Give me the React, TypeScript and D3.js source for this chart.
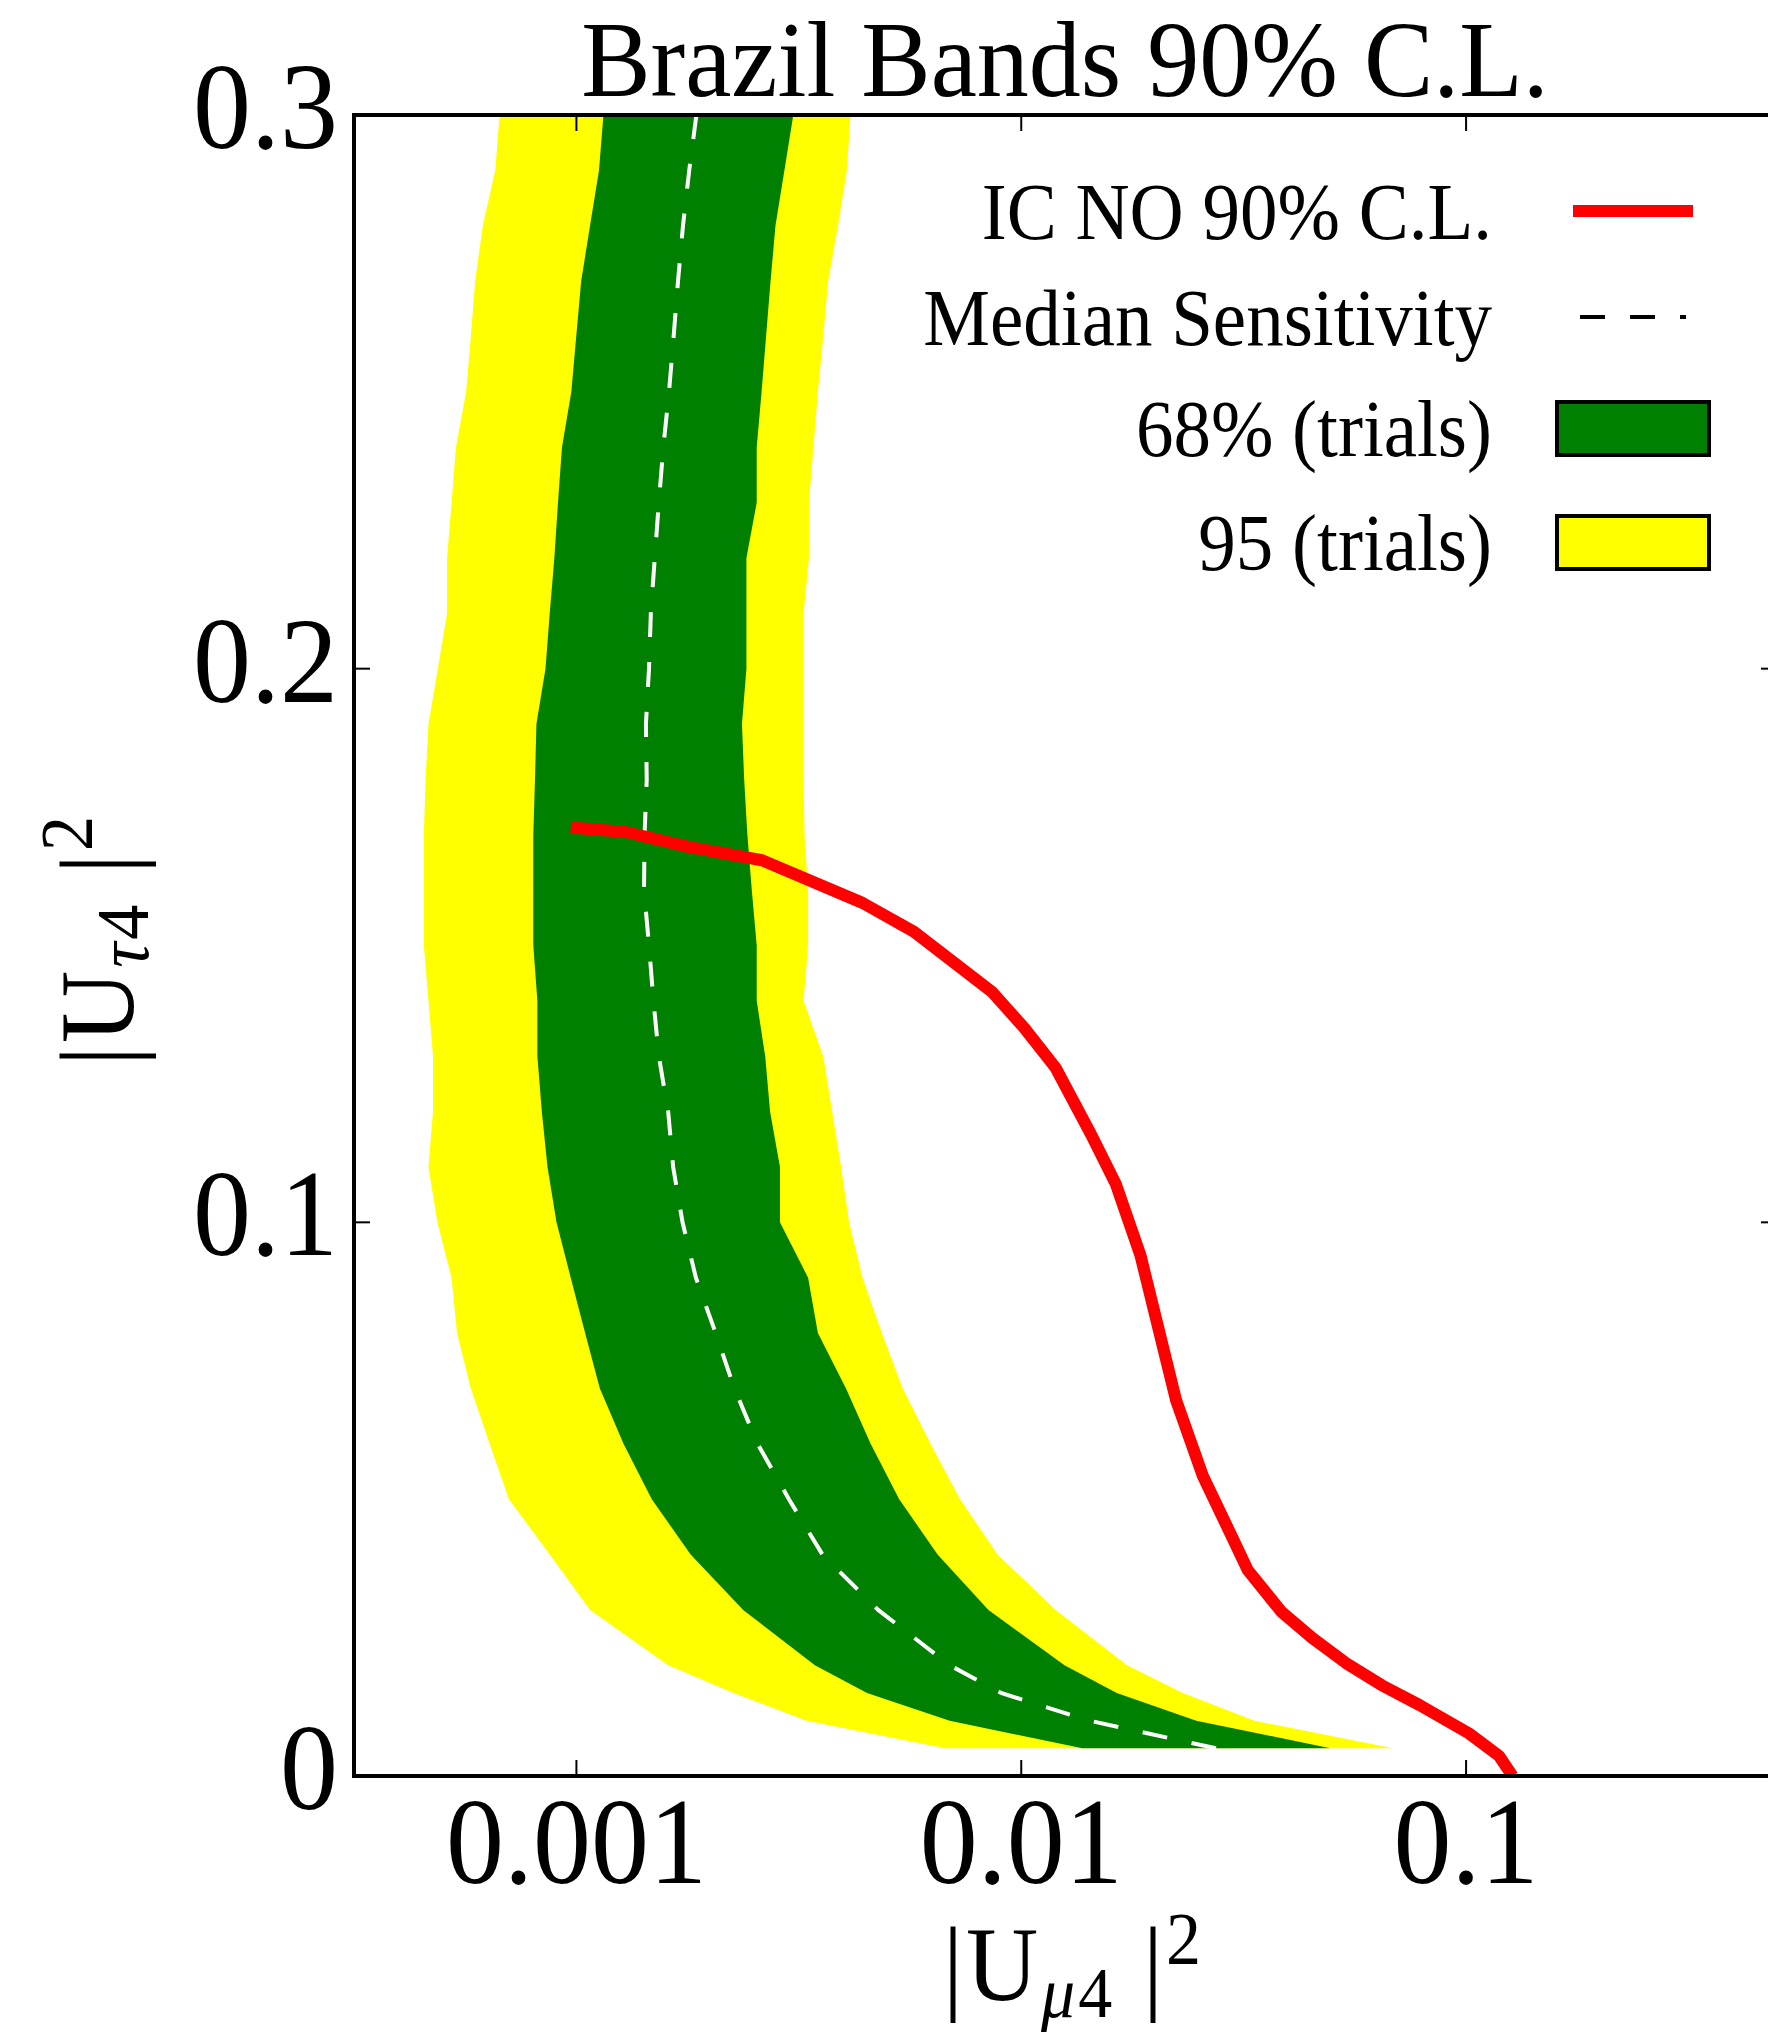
import React from 'react';
import * as d3 from 'd3';

// ---------------- data ----------------
const yLevels = [
  0.005, 0.01, 0.015, 0.02, 0.03, 0.04, 0.05, 0.06, 0.07, 0.08, 0.09, 0.1,
  0.11, 0.12, 0.13, 0.14, 0.15, 0.16, 0.17, 0.18, 0.19, 0.2, 0.21, 0.22,
  0.23, 0.24, 0.25, 0.26, 0.27, 0.28, 0.29, 0.3,
];

// 95% band (yellow) edges in |U_mu4|^2
const band95Low = [
  6.745e-3, 3.294e-3, 2.254e-3, 1.608e-3, 1.073e-3, 8.71e-4, 7.05e-4, 6.38e-4,
  5.79e-4, 5.39e-4, 5.24e-4, 4.87e-4, 4.65e-4, 4.76e-4, 4.76e-4, 4.65e-4,
  4.54e-4, 4.54e-4, 4.54e-4, 4.58e-4, 4.65e-4, 4.88e-4, 5.12e-4, 5.12e-4,
  5.24e-4, 5.36e-4, 5.65e-4, 5.79e-4, 5.92e-4, 6.16e-4, 6.57e-4, 6.72e-4,
];
const band95High = [
  0.06847, 0.03344, 0.02309, 0.01729, 0.01195, 8.845e-3, 7.285e-3, 6.252e-3,
  5.416e-3, 4.859e-3, 4.398e-3, 4.102e-3, 3.936e-3, 3.758e-3, 3.588e-3, 3.241e-3,
  3.318e-3, 3.318e-3, 3.257e-3, 3.241e-3, 3.241e-3, 3.241e-3, 3.241e-3, 3.333e-3,
  3.333e-3, 3.411e-3, 3.49e-3, 3.588e-3, 3.681e-3, 3.873e-3, 4.056e-3, 4.132e-3,
];

// 68% band (green) edges
const band68Low = [
  0.01372, 6.904e-3, 4.501e-3, 3.436e-3, 2.371e-3, 1.806e-3, 1.477e-3, 1.276e-3,
  1.129e-3, 1.046e-3, 9.71e-4, 9.02e-4, 8.61e-4, 8.36e-4, 8.17e-4, 8.17e-4,
  8.0e-4, 8.0e-4, 8.0e-4, 8.07e-4, 8.13e-4, 8.52e-4, 8.71e-4, 8.92e-4,
  9.09e-4, 9.28e-4, 9.74e-4, 9.99e-4, 1.025e-3, 1.073e-3, 1.124e-3, 1.15e-3,
];
const band68High = [
  0.04954, 0.02475, 0.0164, 0.01251, 8.44e-3, 6.485e-3, 5.317e-3, 4.586e-3,
  4.037e-3, 3.49e-3, 3.318e-3, 2.868e-3, 2.868e-3, 2.725e-3, 2.657e-3, 2.543e-3,
  2.543e-3, 2.479e-3, 2.423e-3, 2.383e-3, 2.356e-3, 2.411e-3, 2.411e-3, 2.411e-3,
  2.543e-3, 2.543e-3, 2.608e-3, 2.669e-3, 2.732e-3, 2.802e-3, 2.935e-3, 3.073e-3,
];

// median sensitivity (white dashed)
const medianSens = [
  0.0274, 0.01421, 9.007e-3, 6.904e-3, 4.768e-3, 3.573e-3, 3.004e-3, 2.554e-3,
  2.265e-3, 2.056e-3, 1.856e-3, 1.732e-3, 1.65e-3, 1.608e-3, 1.532e-3, 1.49e-3,
  1.456e-3, 1.419e-3, 1.423e-3, 1.439e-3, 1.433e-3, 1.456e-3, 1.47e-3, 1.5e-3,
  1.532e-3, 1.568e-3, 1.615e-3, 1.654e-3, 1.692e-3, 1.736e-3, 1.793e-3, 1.861e-3,
];

// IC NO 90% C.L. contour (red)
const icX = [
  9.71e-4, 1.292e-3, 1.785e-3, 2.614e-3, 4.396e-3, 5.739e-3, 8.6e-3, 0.01016,
  0.01195, 0.01437, 0.01632, 0.01854, 0.0223, 0.02563, 0.02977, 0.03229,
  0.03841, 0.04515, 0.0537, 0.06461, 0.07864, 0.1015, 0.1187, 0.1272,
];
const icY = [
  0.1713, 0.1705, 0.1678, 0.1654, 0.1577, 0.1525, 0.1416, 0.1351,
  0.1279, 0.1158, 0.1069, 0.094, 0.0678, 0.0541, 0.0432, 0.0372,
  0.0297, 0.0249, 0.0204, 0.0164, 0.0128, 0.0077, 0.0036, 0.0,
];

const xTicks = [0.001, 0.01, 0.1];
const xTickLabels = ['0.001', '0.01', '0.1'];
const yTicks = [0, 0.1, 0.2, 0.3];
const yTickLabels = ['0', '0.1', '0.2', '0.3'];

const legendLabels = ['IC NO 90% C.L.', 'Median Sensitivity', '68% (trials)', '95 (trials)'];

// ---------------- layout ----------------
const W = 1768;
const H = 2040;
const FONT = "'Liberation Serif', 'Times New Roman', serif";
const left = 354;
const right = 1777;
const top = 115;
const bottom = 1776;

const Txt = ({ x, y, size, anchor = 'start', sy = 1.06, rot = 0, tl, children }: any) => (
  <text
    transform={`translate(${x},${y}) rotate(${rot}) scale(1,${sy})`}
    fontSize={size}
    textAnchor={anchor}
    fontFamily={FONT}
    fill="#000"
    {...(tl ? { textLength: tl, lengthAdjust: 'spacing' } : {})}
  >
    {children}
  </text>
);

export default function App() {
  const xScale = d3.scaleLog().domain([Math.pow(10, -3.5), 0.5]).range([left, right]);
  const yScale = d3.scaleLinear().domain([0, 0.3]).range([bottom, top]);

  const idx = yLevels.map((_, i) => i);
  const area95 = d3
    .area<number>()
    .y((i) => yScale(yLevels[i]))
    .x0((i) => xScale(band95Low[i]))
    .x1((i) => xScale(band95High[i]));
  const area68 = d3
    .area<number>()
    .y((i) => yScale(yLevels[i]))
    .x0((i) => xScale(band68Low[i]))
    .x1((i) => xScale(band68High[i]));
  const medLine = d3
    .line<number>()
    .x((i) => xScale(medianSens[i]))
    .y((i) => yScale(yLevels[i]));
  const icLine = d3
    .line<number>()
    .x((i) => xScale(icX[i]))
    .y((i) => yScale(icY[i]));

  const tickLen = 16;

  return (
    <svg
      width={W}
      height={H}
      style={{ position: 'absolute', left: 0, top: 0, background: '#fff' }}
      xmlns="http://www.w3.org/2000/svg"
    >
      <rect x={0} y={0} width={W} height={H} fill="#fff" />
      <defs>
        <clipPath id="plotClip">
          <rect x={left} y={top} width={right - left} height={bottom - top} />
        </clipPath>
      </defs>

      <g clipPath="url(#plotClip)">
        <path d={area95(idx) || ''} fill="#ffff00" stroke="none" />
        <path d={area68(idx) || ''} fill="#008000" stroke="none" />
        <path
          d={medLine(idx) || ''}
          fill="none"
          stroke="#ffffff"
          strokeWidth={4}
          strokeDasharray="25,25"
        />
        <path
          d={icLine(icX.map((_, i) => i)) || ''}
          fill="none"
          stroke="#ff0000"
          strokeWidth={12}
          strokeLinejoin="round"
        />
      </g>

      {/* ticks */}
      <g stroke="#000" strokeWidth={2}>
        {xTicks.map((t) => (
          <g key={'xt' + t}>
            <line x1={xScale(t)} x2={xScale(t)} y1={bottom} y2={bottom - tickLen} />
            <line x1={xScale(t)} x2={xScale(t)} y1={top} y2={top + tickLen} />
          </g>
        ))}
        {yTicks.map((t) => (
          <g key={'yt' + t}>
            <line x1={left} x2={left + tickLen} y1={yScale(t)} y2={yScale(t)} />
            <line x1={right} x2={right - tickLen} y1={yScale(t)} y2={yScale(t)} />
          </g>
        ))}
      </g>

      {/* spines */}
      <rect
        x={left}
        y={top}
        width={right - left}
        height={bottom - top}
        fill="none"
        stroke="#000"
        strokeWidth={4}
      />

      {/* tick labels */}
      {xTicks.map((t, i) => (
        <Txt key={'xl' + t} x={xScale(t)} y={1883} size={116} anchor="middle">
          {xTickLabels[i]}
        </Txt>
      ))}
      {yTicks.map((t, i) => (
        <Txt key={'yl' + t} x={338} y={yScale(t) + 33} size={116} anchor="end">
          {yTickLabels[i]}
        </Txt>
      ))}

      {/* title */}
      <Txt x={1065} y={96} size={104} anchor="middle" sy={1.04}>
        Brazil Bands 90% C.L.
      </Txt>

      {/* axis labels */}
      <Txt x={1072} y={2000} size={100} anchor="middle" sy={1.05} tl={258}>
        <tspan>|U</tspan>
        <tspan fontSize={68} dy={16} fontStyle="italic">μ</tspan>
        <tspan fontSize={68}>4</tspan>
        <tspan dy={-16}>{'\u00a0|'}</tspan>
        <tspan fontSize={70} dy={-34}>2</tspan>
      </Txt>
      <Txt x={133} y={941} size={100} anchor="middle" rot={-90} sy={1.06} tl={250}>
        <tspan>|U</tspan>
        <tspan fontSize={70} dy={14} fontStyle="italic">τ</tspan>
        <tspan fontSize={70}>4</tspan>
        <tspan dy={-14}>{'\u00a0|'}</tspan>
        <tspan fontSize={70} dy={-39}>2</tspan>
      </Txt>

      {/* legend */}
      <Txt x={1492} y={239} size={75} anchor="end" sy={1.08}>{legendLabels[0]}</Txt>
      <Txt x={1492} y={345} size={75} anchor="end" sy={1.08}>{legendLabels[1]}</Txt>
      <Txt x={1492} y={456} size={75} anchor="end" sy={1.08}>{legendLabels[2]}</Txt>
      <Txt x={1492} y={570} size={75} anchor="end" sy={1.08}>{legendLabels[3]}</Txt>

      <line x1={1573} x2={1693} y1={211} y2={211} stroke="#ff0000" strokeWidth={12} />
      <line
        x1={1580}
        x2={1686}
        y1={317}
        y2={317}
        stroke="#000"
        strokeWidth={4}
        strokeDasharray="25,25"
      />
      <rect x={1557} y={402} width={152} height={53} fill="#008000" stroke="#000" strokeWidth={4} />
      <rect x={1557} y={516} width={152} height={53} fill="#ffff00" stroke="#000" strokeWidth={4} />
    </svg>
  );
}
